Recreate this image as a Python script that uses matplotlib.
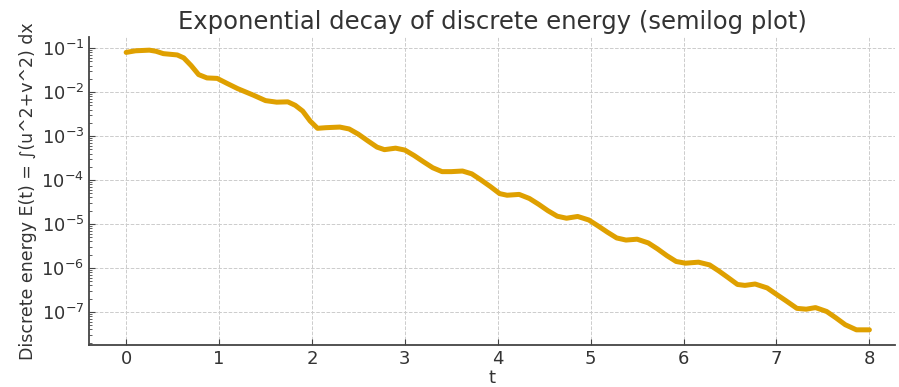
import numpy as np
import matplotlib
matplotlib.use('Agg')
import matplotlib.pyplot as plt

# values (t, discrete energy)
t = [0.00, 0.10, 0.25, 0.32, 0.40, 0.55, 0.62, 0.70, 0.78, 0.87, 0.98,
     1.08, 1.20, 1.37, 1.50, 1.62, 1.74, 1.82, 1.90, 1.98, 2.06, 2.15,
     2.30, 2.40, 2.50, 2.60, 2.70, 2.78, 2.90, 3.00, 3.10, 3.20, 3.30,
     3.40, 3.50, 3.62, 3.72, 3.82, 3.92, 4.02, 4.10, 4.23, 4.34, 4.44,
     4.54, 4.64, 4.74, 4.86, 4.98, 5.08, 5.18, 5.28, 5.38, 5.50, 5.62,
     5.72, 5.82, 5.92, 6.02, 6.16, 6.28, 6.38, 6.48, 6.58, 6.66, 6.77,
     6.90, 7.00, 7.10, 7.22, 7.32, 7.42, 7.54, 7.64, 7.74, 7.86, 8.00]
energy = [8.0e-2, 8.7e-2, 9.0e-2, 8.5e-2, 7.5e-2, 7.0e-2, 6.0e-2, 4.0e-2, 2.5e-2, 2.1e-2, 2.05e-2,
          1.6e-2, 1.2e-2, 8.5e-3, 6.4e-3, 5.9e-3, 6.0e-3, 5.0e-3, 3.7e-3, 2.2e-3, 1.5e-3, 1.55e-3,
          1.6e-3, 1.45e-3, 1.1e-3, 7.8e-4, 5.6e-4, 4.9e-4, 5.3e-4, 4.8e-4, 3.6e-4, 2.6e-4, 1.9e-4,
          1.55e-4, 1.55e-4, 1.6e-4, 1.38e-4, 1.0e-4, 7.1e-5, 4.9e-5, 4.5e-5, 4.7e-5, 3.8e-5, 2.8e-5,
          2.0e-5, 1.5e-5, 1.35e-5, 1.48e-5, 1.23e-5, 9.0e-6, 6.5e-6, 4.8e-6, 4.3e-6, 4.5e-6, 3.7e-6,
          2.7e-6, 1.9e-6, 1.4e-6, 1.28e-6, 1.35e-6, 1.17e-6, 8.5e-7, 6.0e-7, 4.2e-7, 4.0e-7, 4.3e-7,
          3.5e-7, 2.5e-7, 1.8e-7, 1.2e-7, 1.15e-7, 1.25e-7, 1.02e-7, 7.3e-8, 5.1e-8, 3.9e-8, 3.9e-8]

plt.rcParams['font.family'] = 'DejaVu Sans'
fig = plt.figure(figsize=(8.99, 3.87), dpi=100)
ax = fig.add_axes([0.099, 0.109, 0.897, 0.795])

ax.semilogy(t, energy, color='#DFA000', lw=3.6, solid_joinstyle='round', solid_capstyle='round')

ax.set_xlim(-0.4, 8.28)
ax.set_ylim(10**-7.75, 10**-0.75)
ax.set_xticks(range(9))
ax.yaxis.set_minor_formatter(plt.NullFormatter())
ax.grid(True, which='major', ls='--', lw=0.7, color='#cccccc')
ax.set_axisbelow(True)

for s in ['top', 'right']:
    ax.spines[s].set_visible(False)
for s in ['left', 'bottom']:
    ax.spines[s].set_color('#444444')
    ax.spines[s].set_linewidth(1.3)

ax.tick_params(which='both', direction='in', colors='#444444', labelcolor='#333333', labelsize=13)
ax.tick_params(which='major', length=4)
ax.tick_params(which='minor', length=2)

ax.set_title('Exponential decay of discrete energy (semilog plot)', fontsize=17.5, color='#333333', pad=6)
ax.set_xlabel('t', fontsize=13, color='#333333', labelpad=1)
ax.set_ylabel('Discrete energy E(t) = ∫(u^2+v^2) dx', fontsize=12.5, color='#333333', labelpad=3)

fig.savefig('out.png', dpi=100)
